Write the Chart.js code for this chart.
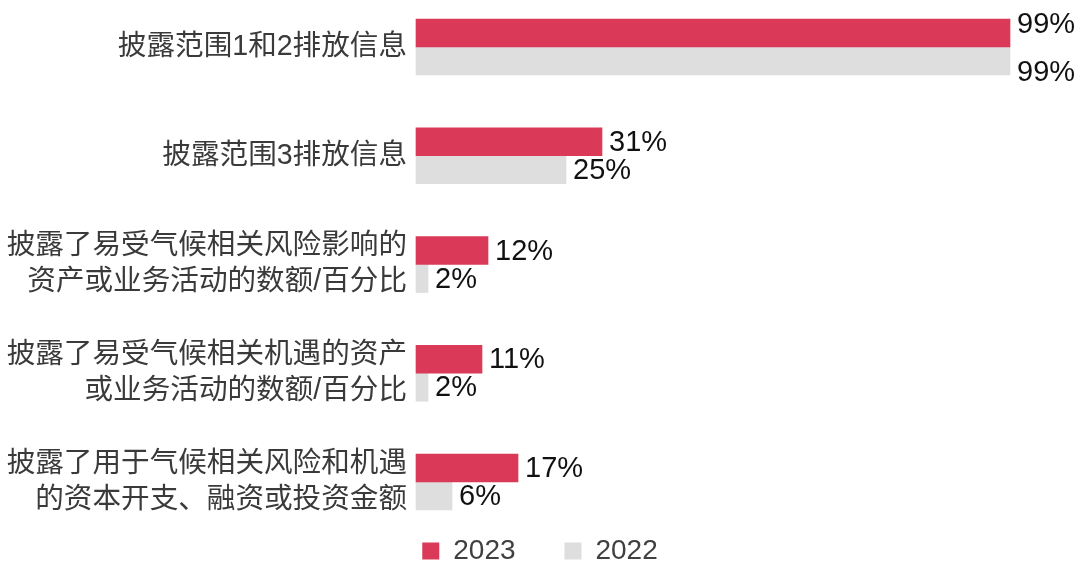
<!DOCTYPE html>
<html>
<head>
<meta charset="utf-8">
<script src="https://cdn.jsdelivr.net/npm/chart.js@4/dist/chart.umd.min.js"></script>
<style>
html,body{margin:0;padding:0;background:#fff;}
#wrap{width:1080px;height:575px;position:relative;}
</style>
</head>
<body>
<div id="wrap"><canvas id="c" width="1080" height="575"></canvas></div>
<script>
const categories = [
  ["披露范围1和2排放信息"],
  ["披露范围3排放信息"],
  ["披露了易受气候相关风险影响的", "资产或业务活动的数额/百分比"],
  ["披露了易受气候相关机遇的资产", "或业务活动的数额/百分比"],
  ["披露了用于气候相关风险和机遇", "的资本开支、融资或投资金额"]
];
const seriesNames = ["2023", "2022"];
const values2023 = [99, 31, 12, 11, 17];
const values2022 = [99, 25, 2, 2, 6];
const colors = ["#DA3A58", "#DEDEDE"];

const FONT = "'Liberation Sans', 'Noto Sans CJK SC', sans-serif";

const dataLabels = {
  id: 'dataLabels',
  afterDatasetsDraw(chart) {
    const ctx = chart.ctx;
    ctx.save();
    ctx.font = "29px " + FONT;
    ctx.fillStyle = "#111111";
    ctx.textAlign = "left";
    ctx.textBaseline = "middle";
    chart.data.datasets.forEach((ds, di) => {
      const meta = chart.getDatasetMeta(di);
      meta.data.forEach((bar, i) => {
        let dy = 1;
        // labels of near-full bars are spread apart vertically
        if (ds.data[i] >= 90) dy = di === 0 ? -8 : 12;
        ctx.fillText(ds.data[i] + "%", bar.x + 7, bar.y + dy);
      });
    });
    ctx.restore();
  }
};

new Chart(document.getElementById('c'), {
  type: 'bar',
  data: {
    labels: categories,
    datasets: [
      { label: seriesNames[0], data: values2023, backgroundColor: colors[0], borderWidth: 0, barThickness: 28, clip: false },
      { label: seriesNames[1], data: values2022, backgroundColor: colors[1], borderWidth: 0, barThickness: 28, clip: false }
    ]
  },
  options: {
    indexAxis: 'y',
    responsive: false,
    animation: false,
    devicePixelRatio: 1,
    layout: { padding: { top: 47, right: 0, left: 0, bottom: 0 } },
    scales: {
      x: {
        type: 'linear', min: 0, max: 100,
        display: true,
        grid: { display: false },
        border: { display: false },
        ticks: { display: false },
        afterFit(s) { s.height = 45; }
      },
      y: {
        offset: false,
        grid: { display: false },
        border: { display: false },
        ticks: {
          padding: 1,
          color: "#3a3a3a",
          font: { family: FONT, size: 28.6, lineHeight: 1.26 }
        },
        afterFit(s) { s.width = 416; }
      },
      yRight: {
        type: 'category',
        position: 'right',
        offset: false,
        display: true,
        grid: { display: false },
        border: { display: false },
        ticks: { display: false },
        afterFit(s) { s.width = 64; }
      }
    },
    plugins: {
      tooltip: { enabled: false },
      legend: {
        position: 'bottom',
        maxHeight: 50,
        labels: {
          boxWidth: 17,
          boxHeight: 17,
          padding: 10,
          color: "#404040",
          font: { family: FONT, size: 28 },
          generateLabels(chart) {
            return chart.data.datasets.map((ds, i) => ({
              text: i === 0 ? ds.label + "     " : ds.label,
              fillStyle: ds.backgroundColor,
              strokeStyle: ds.backgroundColor,
              lineWidth: 0,
              hidden: false,
              datasetIndex: i,
              fontColor: "#404040"
            }));
          }
        }
      }
    }
  },
  plugins: [dataLabels]
});
</script>
</body>
</html>
